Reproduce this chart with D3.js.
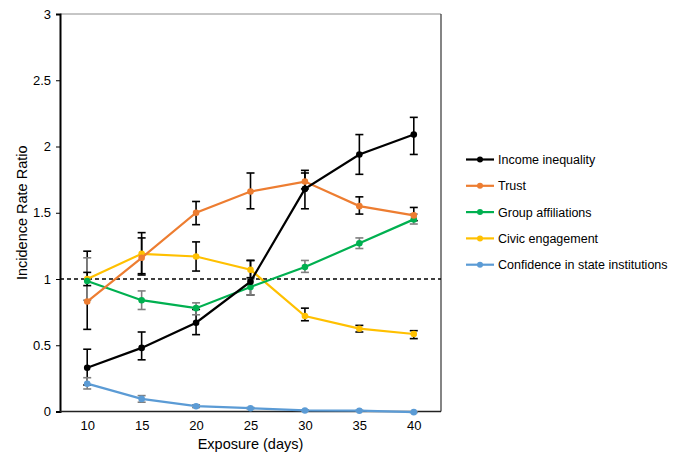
<!DOCTYPE html>
<html lang="en">
<head>
    <meta charset="UTF-8">
    <title>IRR chart</title>
    <script src="https://cdn.jsdelivr.net/npm/d3@7/dist/d3.min.js"></script>
    <style>
        body { margin: 0; background: #fff; }
        text { font-family: "Liberation Sans", Arial, Helvetica, sans-serif; }
    </style>
</head>
<body>

<svg width="688" height="454"></svg>

<script>

    // data
    var days = [10, 15, 20, 25, 30, 35, 40];
    var yTicks = [0, 0.5, 1, 1.5, 2, 2.5, 3];

    var incomeVal = [0.33, 0.48, 0.67, 0.98, 1.68, 1.94, 2.09];
    var incomeLo  = [0.20, 0.39, 0.58, 0.88, 1.53, 1.79, 1.94];
    var incomeHi  = [0.47, 0.60, 0.77, 1.14, 1.82, 2.09, 2.22];

    var trustVal = [0.83, 1.16, 1.50, 1.66, 1.735, 1.55, 1.48];
    var trustLo  = [0.62, 1.04, 1.41, 1.53, 1.68, 1.49, 1.44];
    var trustHi  = [1.21, 1.35, 1.585, 1.80, 1.80, 1.62, 1.54];

    var groupVal = [0.985, 0.84, 0.78, 0.94, 1.09, 1.27, 1.45];
    var groupLo  = [0.84, 0.77, 0.73, 0.88, 1.05, 1.23, 1.415];
    var groupHi  = [1.16, 0.91, 0.82, 1.00, 1.14, 1.31, 1.49];

    var civicVal = [1.00, 1.19, 1.17, 1.07, 0.72, 0.625, 0.585];
    var civicLo  = [0.95, 1.03, 1.06, 1.01, 0.685, 0.60, 0.55];
    var civicHi  = [1.05, 1.31, 1.28, 1.14, 0.78, 0.65, 0.61];

    var confVal = [0.21, 0.095, 0.04, 0.025, 0.008, 0.006, -0.005];
    var confLo  = [0.17, 0.07, 0.03, 0.02, 0.004, 0.003, -0.008];
    var confHi  = [0.255, 0.12, 0.05, 0.03, 0.012, 0.009, -0.002];

    var seriesNames  = ["Income inequality", "Trust", "Group affiliations", "Civic engagement", "Confidence in state institutions"];
    var seriesColors = ["#000000", "#ED7D31", "#00B050", "#FFC000", "#5B9BD5"];
    var errColors    = ["#000000", "#000000", "#7F7F7F", "#000000", "#7F7F7F"];

    var series = [
        {val: incomeVal, lo: incomeLo, hi: incomeHi},
        {val: trustVal, lo: trustLo, hi: trustHi},
        {val: groupVal, lo: groupLo, hi: groupHi},
        {val: civicVal, lo: civicLo, hi: civicHi},
        {val: confVal, lo: confLo, hi: confHi}
    ];
    series.forEach(function (s, i) {
        s.name = seriesNames[i];
        s.color = seriesColors[i];
        s.err = errColors[i];
        s.points = days.map(function (d, j) {
            return {x: d, y: s.val[j], lo: s.lo[j], hi: s.hi[j]};
        });
    });

    var svg = d3.select("svg");
    var pL = 60, pR = 441, pT = 14, pB = 411.5;

    var x = d3.scalePoint()
        .domain(days)
        .range([pL, pR])
        .padding(0.5);

    var y = d3.scaleLinear()
        .domain([0, 3])
        .range([pB, pT]);

    // frame (top / right)
    svg.append("line")
        .attr("x1", pL).attr("x2", pR)
        .attr("y1", pT).attr("y2", pT)
        .attr("stroke", "#8c8c8c").attr("stroke-width", 1);
    svg.append("line")
        .attr("x1", pR).attr("x2", pR)
        .attr("y1", pT).attr("y2", pB)
        .attr("stroke", "#333").attr("stroke-width", 1.2);

    // y axis
    var yAxis = svg.append("g")
        .attr("transform", "translate(" + pL + ",0)")
        .call(d3.axisLeft(y).tickValues(yTicks).tickSize(4).tickPadding(5)
            .tickFormat(function (d) { return d; }));
    yAxis.select(".domain").attr("stroke", "#000").attr("stroke-width", 2);
    yAxis.selectAll(".tick line").attr("stroke", "#000");
    yAxis.selectAll("text").attr("font-size", 13).attr("fill", "#000");

    // x axis
    var xAxis = svg.append("g")
        .attr("transform", "translate(0," + pB + ")")
        .call(d3.axisBottom(x).tickSize(0).tickPadding(9));
    xAxis.select(".domain").attr("d", "M" + pL + ",0H" + pR)
        .attr("stroke", "#222").attr("stroke-width", 1.6);
    xAxis.selectAll("text").attr("font-size", 13).attr("fill", "#000");

    // reference line at 1
    svg.append("line")
        .attr("x1", pL).attr("x2", pR)
        .attr("y1", y(1)).attr("y2", y(1))
        .attr("stroke", "#000").attr("stroke-width", 1.6)
        .attr("stroke-dasharray", "4,3");

    // axis titles
    svg.append("text")
        .attr("transform", "translate(27," + ((pT + pB) / 2) + ") rotate(-90)")
        .attr("text-anchor", "middle")
        .attr("font-size", 14.5)
        .text("Incidence Rate Ratio");

    svg.append("text")
        .attr("x", (pL + pR) / 2)
        .attr("y", 449)
        .attr("text-anchor", "middle")
        .attr("font-size", 14.5)
        .text("Exposure (days)");

    // error bars
    var cap = 4;
    var eg = svg.append("g");
    series.forEach(function (s) {
        var g = eg.append("g").attr("stroke", s.err).attr("stroke-width", 1.6);
        g.selectAll(".v").data(s.points).enter().append("line")
            .attr("x1", function (d) { return x(d.x); })
            .attr("x2", function (d) { return x(d.x); })
            .attr("y1", function (d) { return y(d.lo); })
            .attr("y2", function (d) { return y(d.hi); });
        g.selectAll(".t").data(s.points).enter().append("line")
            .attr("x1", function (d) { return x(d.x) - cap; })
            .attr("x2", function (d) { return x(d.x) + cap; })
            .attr("y1", function (d) { return y(d.hi); })
            .attr("y2", function (d) { return y(d.hi); });
        g.selectAll(".b").data(s.points).enter().append("line")
            .attr("x1", function (d) { return x(d.x) - cap; })
            .attr("x2", function (d) { return x(d.x) + cap; })
            .attr("y1", function (d) { return y(d.lo); })
            .attr("y2", function (d) { return y(d.lo); });
    });

    // lines + markers
    var line = d3.line()
        .x(function (d) { return x(d.x); })
        .y(function (d) { return y(d.y); });

    var sg = svg.append("g");
    series.slice().reverse().forEach(function (s) {
        sg.append("path")
            .attr("d", line(s.points))
            .attr("fill", "none")
            .attr("stroke", s.color)
            .attr("stroke-width", 2.2);
        sg.selectAll(null).data(s.points).enter().append("circle")
            .attr("cx", function (d) { return x(d.x); })
            .attr("cy", function (d) { return y(d.y); })
            .attr("r", 3.3)
            .attr("fill", s.color);
    });

    // legend
    var legend = svg.append("g")
        .selectAll("g")
        .data(series)
        .enter()
        .append("g")
        .attr("transform", function (d, i) {
            return "translate(466," + (159.5 + i * 26.3) + ")";
        });
    legend.append("line")
        .attr("x1", 0).attr("x2", 28)
        .attr("stroke", function (d) { return d.color; })
        .attr("stroke-width", 2.2);
    legend.append("circle")
        .attr("cx", 14).attr("r", 3)
        .attr("fill", function (d) { return d.color; });
    legend.append("text")
        .attr("x", 32)
        .attr("dy", "0.36em")
        .attr("font-size", 12.5)
        .text(function (d) { return d.name; });

</script>
</body>
</html>
